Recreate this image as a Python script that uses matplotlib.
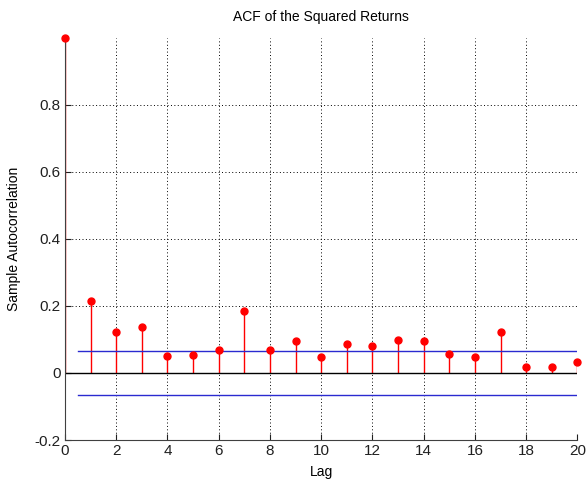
import numpy as np
import matplotlib.pyplot as plt

plt.rcParams['font.family'] = ['Liberation Sans', 'DejaVu Sans']

# sample autocorrelation of squared returns, lags 0..20
lags = np.arange(0, 21)
acf = [1.0, 0.215, 0.122, 0.136, 0.052, 0.055, 0.070, 0.186, 0.070, 0.095,
       0.048, 0.087, 0.080, 0.098, 0.094, 0.056, 0.048, 0.122, 0.019, 0.019,
       0.034]
bound = 0.066  # approximate 95% confidence bound

fig = plt.figure(figsize=(5.87, 4.8), dpi=100)
ax = fig.add_axes([0.1107, 0.0833, 0.873, 0.838])

ax.grid(True, color='black', linestyle=(0, (1, 2.5)), linewidth=0.7)
ax.set_axisbelow(True)

markerline, stemlines, baseline = ax.stem(lags, acf, basefmt='k-')
plt.setp(markerline, color='red', markersize=5, clip_on=False, zorder=4)
plt.setp(stemlines, color='red', linewidth=1)
plt.setp(baseline, color='black', linewidth=1)

ax.plot([0.5, 20], [bound, bound], color='#2a2ad0', linewidth=1)
ax.plot([0.5, 20], [-bound, -bound], color='#2a2ad0', linewidth=1)

ax.set_xlim(0, 20)
ax.set_ylim(-0.2, 1.0)
ax.set_xticks(np.arange(0, 21, 2))
ax.set_yticks([-0.2, 0, 0.2, 0.4, 0.6, 0.8])
ax.set_yticklabels(['-0.2', '0', '0.2', '0.4', '0.6', '0.8'])

for side in ['top', 'right']:
    ax.spines[side].set_visible(False)
for side in ['left', 'bottom']:
    ax.spines[side].set_color('#404040')
ax.tick_params(direction='in', length=4, labelsize=11, colors='#202020', pad=3)

ax.set_xlabel('Lag', fontsize=10, labelpad=5)
ax.set_ylabel('Sample Autocorrelation', fontsize=10, labelpad=10)
ax.set_title('ACF of the Squared Returns', fontsize=10, pad=12)

fig.savefig('out.png', dpi=100)
